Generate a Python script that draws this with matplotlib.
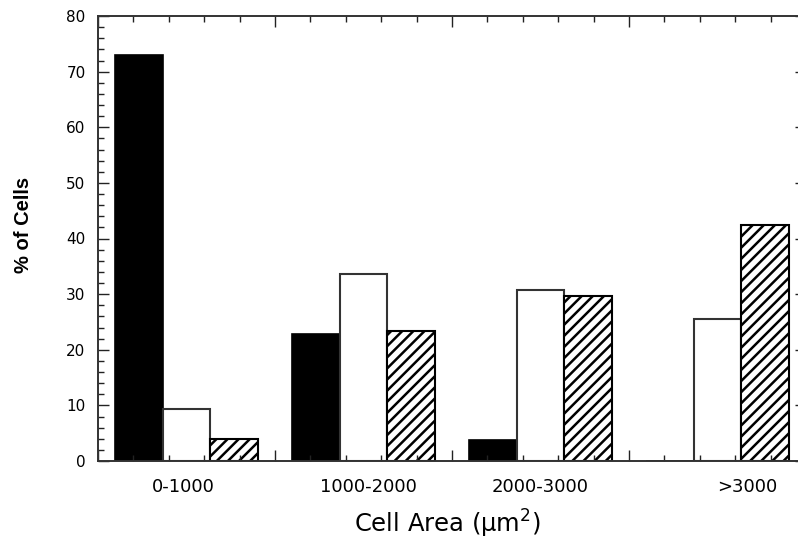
import matplotlib
matplotlib.use("Agg")
import matplotlib.pyplot as plt
from matplotlib.ticker import MultipleLocator, NullFormatter

plt.rcParams['font.family'] = ['DejaVu Sans']
plt.rcParams['hatch.linewidth'] = 1.8

# data
categories = ['0-1000', '1000-2000', '2000-3000', '>3000']
black_vals = [73.0, 22.9, 3.7, 0.0]
white_vals = [9.3, 33.7, 30.8, 25.6]
hatch_vals = [4.0, 23.3, 29.6, 42.5]

group_x = [0.5, 1.5, 2.5, 3.5]
label_x = [0.48, 1.53, 2.5, 3.67]
bar_w = 0.268

fig = plt.figure(figsize=(7.98, 5.39), dpi=100)
ax = fig.add_axes([98 / 798, 78 / 539, 708 / 798, 445 / 539])

xb = [g - bar_w for g in group_x]
xh = [g + bar_w for g in group_x]
ax.bar(xb, black_vals, width=bar_w, color='black', edgecolor='black', linewidth=1.2)
ax.bar(group_x, white_vals, width=bar_w, color='white', edgecolor='#333333', linewidth=1.5)
ax.bar(xh, hatch_vals, width=bar_w, color='white', edgecolor='black', hatch='///', linewidth=1.5)

ax.set_xlim(0, 4)
ax.set_ylim(0, 80)

ax.xaxis.set_major_locator(MultipleLocator(1))
ax.xaxis.set_minor_locator(MultipleLocator(0.2))
ax.xaxis.set_major_formatter(NullFormatter())
ax.yaxis.set_major_locator(MultipleLocator(10))
ax.yaxis.set_minor_locator(MultipleLocator(2))

ax.tick_params(which='both', direction='in', top=True, right=True, width=1.0, color='#222222')
ax.tick_params(which='major', length=8)
ax.tick_params(which='minor', length=4.5)
ax.tick_params(axis='y', labelsize=11, pad=9)

for s in ax.spines.values():
    s.set_linewidth(1.4)
    s.set_color('#333333')

for lx, name in zip(label_x, categories):
    ax.text(lx, -0.058, name, transform=ax.get_xaxis_transform(),
            ha='center', va='center', fontsize=13)

fig.text(24 / 798, 1 - 225 / 539, '% of Cells', rotation=90, ha='center', va='center',
         fontsize=14.5, fontweight='bold', family=['Liberation Sans', 'DejaVu Sans'])
fig.text(447 / 798, 1 - 524 / 539, r'Cell Area ($\mathregular{\mu}$m$^\mathregular{2}$)',
         ha='center', va='center', fontsize=17.5)

fig.savefig('out.png', dpi=100)
